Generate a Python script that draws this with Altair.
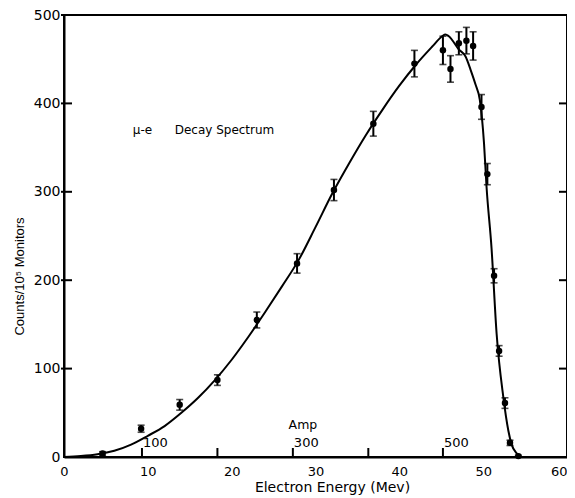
import altair as alt
import pandas as pd

# Measured data points (electron energy in MeV, counts per 10^5 monitors, error)
energy = [4.6, 9.2, 13.8, 18.3, 23.0, 27.8, 32.2, 36.9, 41.8, 45.2, 46.1, 47.1, 48.0, 48.8,
          49.8, 50.5, 51.3, 51.9, 52.6, 53.2, 54.2]
counts = [4, 32, 59, 87, 155, 219, 302, 377, 445, 460, 439, 468, 471, 465,
          396, 320, 205, 120, 61, 16, 1]
errors = [2, 4, 6, 6, 9, 11, 12, 14, 15, 16, 15, 13, 15, 16,
          14, 12, 8, 6, 6, 3, 1]

# Hand-drawn theoretical curve
curve_x = [0, 2, 4, 6, 8, 10, 12, 14, 16, 18, 20, 22, 24, 26, 28, 30, 32, 34, 36, 38, 40,
           42, 44, 45.1, 45.5, 45.9, 47.1, 47.9, 48.5, 49.1, 49.6, 50.1, 50.4, 51.0, 51.6,
           52.4, 53.0, 53.4, 54.0, 54.4]
curve_y = [0, 1, 3, 7, 14, 24, 35, 50, 67, 87, 110, 136, 164, 193, 223, 260, 298, 332, 364,
           393, 420, 444, 465, 476, 478, 476, 461, 453, 438, 421, 404, 355, 306, 236, 140,
           68, 30, 14, 4, 0]

# Axis ticks
x_ticks = [0, 10, 20, 30, 40, 50, 60]
y_ticks = [0, 100, 200, 300, 400, 500]
inner_y_ticks = [100, 200, 300, 400, 500]
right_ticks = [100, 200, 300, 400]

# Secondary "Amp" scale marked along the energy axis
amp_x = [9.3, 18.3, 27.3, 36.3, 45.2]
amp_labels = ["100", "", "300", "", "500"]

W, H = 503, 442
FONT = "DejaVu Sans"

pts = pd.DataFrame({"energy": energy, "counts": counts})
pts["lo"] = [c - e for c, e in zip(counts, errors)]
pts["hi"] = [c + e for c, e in zip(counts, errors)]
curve = pd.DataFrame({"x": curve_x, "y": curve_y})
amp = pd.DataFrame({"x": amp_x, "label": amp_labels})

xscale = alt.Scale(domain=[0, 60], nice=False, padding=0, zero=False)
yscale = alt.Scale(domain=[0, 500], nice=False, padding=0, zero=False)

xaxis = alt.Axis(values=x_ticks, grid=False, tickSize=0, labelPadding=8, labelFontSize=13,
                 labelFont=FONT, labelFlush=False, labelOverlap=False,
                 labelAlign={"condition": {"test": "datum.value === 60", "value": "right"},
                             "value": "center"},
                 title="Electron Energy (Mev)", titleFont=FONT,
                 titleFontSize=14, titleFontWeight="normal", titleX=268, titleY=23,
                 titleBaseline="top", titleAlign="center", domainColor="black",
                 domainWidth=2, labelColor="black", titleColor="black")
yaxis = alt.Axis(values=y_ticks, grid=False, tickSize=0, labelPadding=4, labelFontSize=14,
                 labelFont=FONT, labelFlush=False, labelOverlap=False,
                 title="Counts/10⁵ Monitors", titleFont="Liberation Sans",
                 titleFontSize=13, titleFontWeight="normal", titleX=-45, titleY=261,
                 titleAngle=270, titleBaseline="middle", titleAlign="center",
                 domainColor="black", domainWidth=2, labelColor="black", titleColor="black")

line = alt.Chart(curve).mark_line(color="black", strokeWidth=2, interpolate="monotone").encode(
    x=alt.X("x:Q", scale=xscale, axis=xaxis),
    y=alt.Y("y:Q", scale=yscale, axis=yaxis),
)

base = alt.Chart(pts)
bars = base.mark_rule(color="black", strokeWidth=2).encode(
    x=alt.X("energy:Q", scale=xscale), y=alt.Y("lo:Q", scale=yscale), y2="hi:Q")
cap_lo = base.mark_tick(color="black", orient="horizontal", size=7, thickness=1.6).encode(
    x=alt.X("energy:Q", scale=xscale), y=alt.Y("lo:Q", scale=yscale))
cap_hi = base.mark_tick(color="black", orient="horizontal", size=7, thickness=1.6).encode(
    x=alt.X("energy:Q", scale=xscale), y=alt.Y("hi:Q", scale=yscale))
dots = base.mark_circle(color="black", size=42, opacity=1).encode(
    x=alt.X("energy:Q", scale=xscale), y=alt.Y("counts:Q", scale=yscale))

left_ticks = alt.Chart(pd.DataFrame({"v": inner_y_ticks})).mark_rule(
    color="black", strokeWidth=2).encode(
    x=alt.value(-3), x2=alt.value(8), y=alt.Y("v:Q", scale=yscale))
rticks = alt.Chart(pd.DataFrame({"v": right_ticks})).mark_rule(
    color="black", strokeWidth=2).encode(
    x=alt.value(W - 8), x2=alt.value(W), y=alt.Y("v:Q", scale=yscale))

amp_ticks = alt.Chart(amp).mark_rule(color="black", strokeWidth=2).encode(
    x=alt.X("x:Q", scale=xscale), y=alt.value(H), y2=alt.value(H - 9))
amp_text = alt.Chart(amp).mark_text(align="left", baseline="middle", dx=1, fontSize=13,
                                    font=FONT, color="black").encode(
    x=alt.X("x:Q", scale=xscale), y=alt.value(H - 14), text="label:N")
amp_title = alt.Chart(pd.DataFrame({"t": ["Amp"]})).mark_text(
    align="center", baseline="middle", fontSize=12.5, font=FONT, color="black").encode(
    x=alt.datum(28.5), y=alt.value(H - 32), text="t:N")

title1 = alt.Chart(pd.DataFrame({"t": ["μ-e"]})).mark_text(
    align="left", baseline="middle", fontSize=12, font=FONT, color="black").encode(
    x=alt.datum(8.2), y=alt.datum(370), text="t:N")
title2 = alt.Chart(pd.DataFrame({"t": ["Decay Spectrum"]})).mark_text(
    align="left", baseline="middle", fontSize=12, font=FONT, color="black").encode(
    x=alt.datum(13.2), y=alt.datum(370), text="t:N")

chart = alt.layer(line, bars, cap_lo, cap_hi, dots, left_ticks, rticks, amp_ticks,
                  amp_text, amp_title, title1, title2).properties(
    width=W, height=H,
    autosize=alt.AutoSizeParams(type="none"),
    padding={"left": 56, "top": 7, "right": 0, "bottom": 38},
    background="white",
).configure_view(stroke="black", strokeWidth=2)

chart.save("out.html", embed_options={"renderer": "svg", "actions": False})
